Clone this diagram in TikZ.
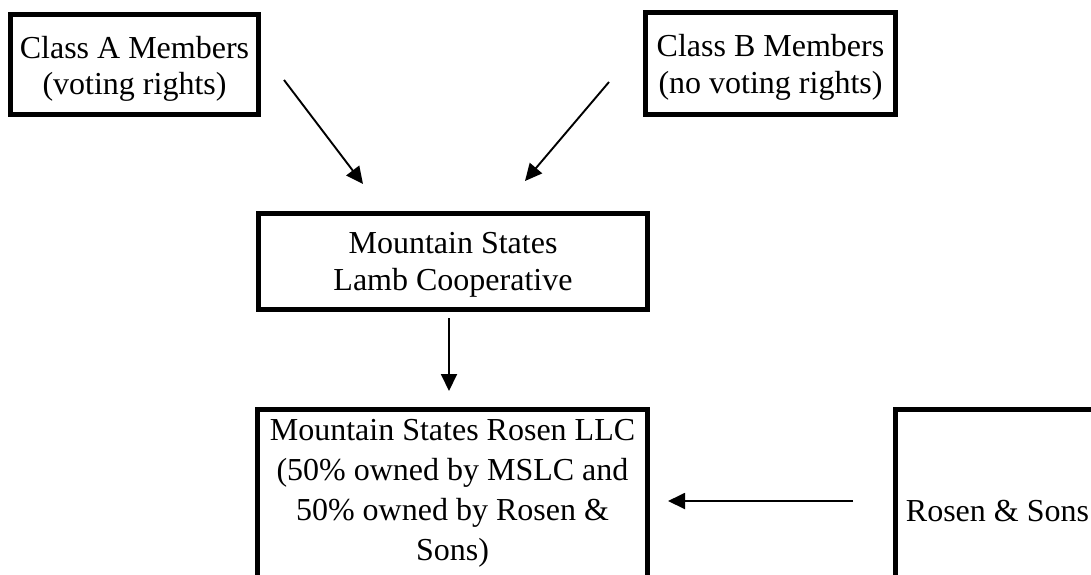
\documentclass[tikz,border=0pt]{standalone}
\usepackage{fontspec}
\setmainfont{Liberation Serif}
\usetikzlibrary{arrows.meta}
\tikzset{
  box/.style={draw=black, line width=5pt, inner sep=0pt, anchor=base, fill=white},
  conn/.style={line width=1.9pt, -{Triangle[length=17pt,width=16pt]}},
}
\newcommand{\boxtext}[3]{\parbox[t]{#1}{\centering\fontsize{32}{#2}\selectfont #3}}
\begin{document}
\begin{tikzpicture}[x=1pt,y=-1pt]
  \useasboundingbox (0,0) rectangle (1091,574);
  \clip (0,0) rectangle (1091,574);
  \fill[white] (0,0) rectangle (1091,574);
  % boxes
  \node[box, text height=43.8pt, text depth=56.2pt] (clA) at (134.5,58.3)
    {\boxtext{248pt}{36.5}{Class A Members\\(voting rights)}};
  \node[box, text height=43.5pt, text depth=58.5pt] (clB) at (770.5,56)
    {\boxtext{250pt}{37}{Class B Members\\(no voting rights)}};
  \node[box, text height=39.8pt, text depth=56.2pt] (coop) at (453,253.3)
    {\boxtext{389pt}{37.5}{Mountain States\\Lamb Cooperative}};
  \node[box, text height=31pt, text depth=200pt] (llc) at (452.5,440.5)
    {\boxtext{390pt}{40}{Mountain States Rosen LLC\\(50\% owned by MSLC and\\50\% owned by Rosen \&\\Sons)}};
  \node[box, text height=111.5pt, text depth=200pt] (rosen) at (997.5,521)
    {\boxtext{204pt}{40}{Rosen \& Sons}};
  % connector end points
  \coordinate (a1s) at (284,80);
  \coordinate (a1e) at (363,184);
  \coordinate (a2s) at (609,82);
  \coordinate (a2e) at (525,181);
  \coordinate (a3s) at (449,318);
  \coordinate (a3e) at (449,391);
  \coordinate (a4s) at (853,501);
  \coordinate (a4e) at (668,501);
  \draw[conn] (a1s) -- (a1e);
  \draw[conn] (a2s) -- (a2e);
  \draw[conn] (a3s) -- (a3e);
  \draw[conn] (a4s) -- (a4e);
\end{tikzpicture}
\end{document}
